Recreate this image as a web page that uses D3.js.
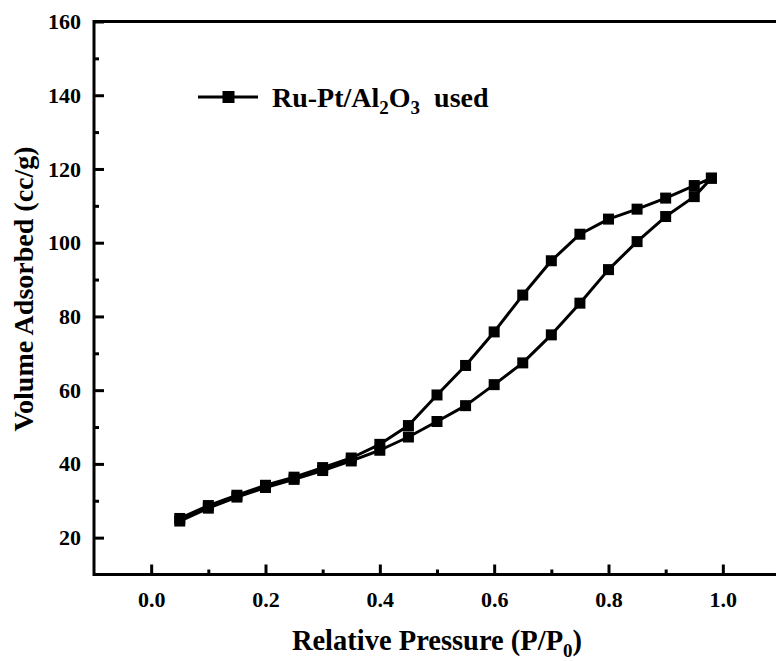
<!DOCTYPE html>
<html>
<head>
<meta charset="utf-8">
<script src="https://cdn.jsdelivr.net/npm/d3@7"></script>
<style>
  body { margin: 0; background: #fff; }
  text { font-family: "Liberation Serif", "Times New Roman", serif; font-weight: bold; }
</style>
</head>
<body>
<script>
// adsorption branch (lower)
var adsP = [0.05, 0.10, 0.15, 0.20, 0.25, 0.30, 0.35, 0.40, 0.45, 0.50, 0.55, 0.60, 0.65, 0.70, 0.75, 0.80, 0.85, 0.90, 0.95, 0.98];
var adsV = [24.5, 28.0, 31.0, 33.6, 35.8, 38.2, 40.8, 43.7, 47.3, 51.5, 55.8, 61.5, 67.4, 75.0, 83.6, 92.7, 100.3, 107.1, 112.5, 117.5];
// desorption branch (upper)
var desP = [0.98, 0.95, 0.90, 0.85, 0.80, 0.75, 0.70, 0.65, 0.60, 0.55, 0.50, 0.45, 0.40, 0.35, 0.30, 0.25, 0.20, 0.15, 0.10, 0.05];
var desV = [117.5, 115.5, 112.1, 109.1, 106.4, 102.3, 95.1, 85.8, 75.8, 66.7, 58.7, 50.4, 45.3, 41.6, 39.0, 36.4, 34.2, 31.5, 28.7, 25.2];
var xTicks = [0.0, 0.2, 0.4, 0.6, 0.8, 1.0];
var yTicks = [20, 40, 60, 80, 100, 120, 140, 160];

var W = 776, H = 661;
var svg = d3.select("body").append("svg").attr("width", W).attr("height", H);

var x = d3.scaleLinear().domain([-0.1, 1.1]).range([94, 780]);
var y = d3.scaleLinear().domain([10, 160]).range([574.5, 21.5]);

var pts = adsP.map(function(p, i) { return [p, adsV[i]]; })
  .concat(desP.map(function(p, i) { return [p, desV[i]]; }));

var line = d3.line().x(function(d) { return x(d[0]); }).y(function(d) { return y(d[1]); });

svg.append("path").datum(pts)
  .attr("d", line).attr("fill", "none").attr("stroke", "#000")
  .attr("stroke-width", 3).attr("stroke-linejoin", "round");

svg.selectAll("rect.pt").data(pts).enter().append("rect")
  .attr("class", "pt")
  .attr("x", function(d) { return x(d[0]) - 5.5; })
  .attr("y", function(d) { return y(d[1]) - 5.5; })
  .attr("width", 11).attr("height", 11).attr("fill", "#000");

// frame
svg.append("path")
  .attr("d", "M" + x.range()[1] + "," + y.range()[1] + "H" + x.range()[0] + "V" + y.range()[0] + "H" + x.range()[1])
  .attr("fill", "none").attr("stroke", "#000").attr("stroke-width", 3);

// axes (ticks inward)
var xMinor = d3.range(-0.1, 1.11, 0.1).map(function(v) { return +v.toFixed(1); })
  .filter(function(v) { return xTicks.indexOf(v) < 0 && v > -0.1; });
var yMinor = d3.range(30, 160, 20);

var gx = svg.append("g").attr("transform", "translate(0," + y.range()[0] + ")");
gx.call(d3.axisBottom(x).tickValues(xTicks).tickFormat(d3.format(".1f")).tickSize(-10).tickPadding(17));
gx.append("g").call(d3.axisBottom(x).tickValues(xMinor).tickFormat("").tickSize(-5));

var gy = svg.append("g").attr("transform", "translate(" + x.range()[0] + ",0)");
gy.call(d3.axisLeft(y).tickValues(yTicks).tickFormat(d3.format("d")).tickSize(-10).tickPadding(13));
gy.append("g").call(d3.axisLeft(y).tickValues(yMinor).tickFormat("").tickSize(-5));

svg.selectAll(".domain").remove();
svg.selectAll(".tick line").attr("stroke", "#000").attr("stroke-width", 3);
svg.selectAll(".tick text").attr("fill", "#000").style("font-size", "22px")
  .style("font-family", "'Liberation Serif', serif").style("font-weight", "bold");

// axis titles
var xt = svg.append("text").attr("x", 437).attr("y", 650).attr("text-anchor", "middle")
  .style("font-size", "28.5px");
xt.append("tspan").text("Relative Pressure (P/P");
xt.append("tspan").attr("dy", 7).style("font-size", "19px").text("0");
xt.append("tspan").attr("dy", -7).text(")");

svg.append("text").attr("transform", "translate(33,289) rotate(-90)")
  .attr("text-anchor", "middle").style("font-size", "28px")
  .text("Volume Adsorbed (cc/g)");

// legend
var ly = 97;
svg.append("line").attr("x1", 198).attr("x2", 258).attr("y1", ly).attr("y2", ly)
  .attr("stroke", "#000").attr("stroke-width", 3);
svg.append("rect").attr("x", 222.5).attr("y", ly - 6).attr("width", 12).attr("height", 12).attr("fill", "#000");
var lt = svg.append("text").attr("x", 272).attr("y", 107).style("font-size", "28px");
lt.append("tspan").text("Ru-Pt/Al");
lt.append("tspan").attr("dy", 7).style("font-size", "19px").text("2");
lt.append("tspan").attr("dy", -7).text("O");
lt.append("tspan").attr("dy", 7).style("font-size", "19px").text("3");
lt.append("tspan").attr("dy", -7).attr("dx", 14).text("used");
</script>
</body>
</html>
